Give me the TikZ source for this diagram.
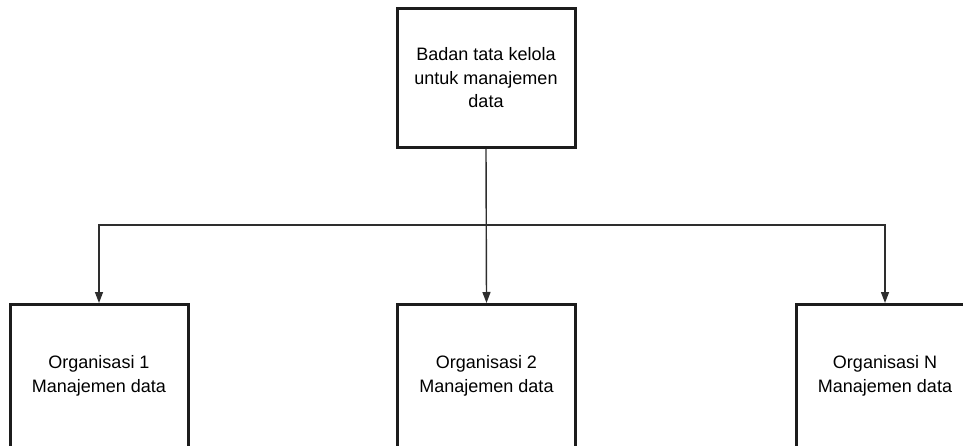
\documentclass[tikz,border=0pt]{standalone}
\usepackage{fontspec}
\setmainfont{Liberation Sans}
\usetikzlibrary{arrows.meta}
\definecolor{boxline}{HTML}{1C1C1C}
\definecolor{linkline}{HTML}{2E2E2E}
\tikzset{
  unitbox/.style={draw=boxline, line width=3pt, fill=white, rectangle,
    minimum width=178pt, align=center, inner sep=0pt,
    font=\fontsize{18}{23.5}\selectfont},
  link/.style={draw=linkline, line width=1.4pt,
    -{Triangle[width=8pt,length=11pt]}}
}
\begin{document}
\begin{tikzpicture}[x=1pt,y=-1pt]
  \useasboundingbox (0,0) rectangle (963,446);
  \clip (0,0) rectangle (963,446);

  % governing body
  \node[unitbox, minimum height=139pt] (gov) at (486,78)
    {Badan tata kelola\\untuk manajemen\\data};

  % member organisations
  \node[unitbox, minimum height=143pt] (org1) at (99,376)
    {Organisasi 1\\Manajemen data};
  \node[unitbox, minimum height=143pt] (org2) at (486.5,376)
    {Organisasi 2\\Manajemen data};
  \node[unitbox, minimum height=143pt] (orgN) at (885,376)
    {Organisasi N\\Manajemen data};

  % distribution bus
  \coordinate (bus) at (486,225);
  \draw[link] (gov.south) -- (org2.north);
  \draw[link] (bus) -| (org1.north);
  \draw[link] (bus) -| (orgN.north);
\end{tikzpicture}
\end{document}
